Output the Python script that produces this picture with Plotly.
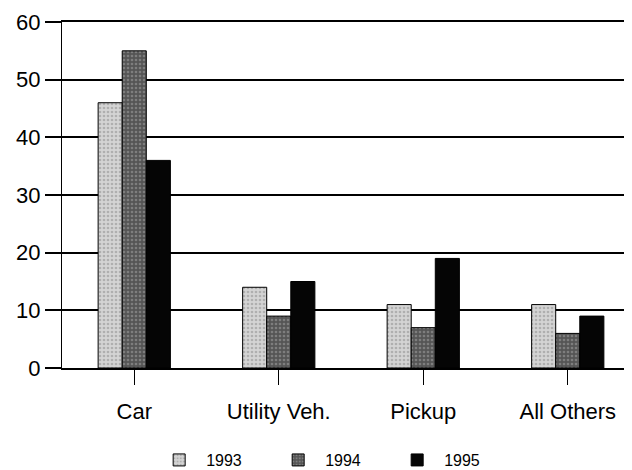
import plotly.graph_objects as go

# --- data ---
CATEGORIES = ['Car', 'Utility Veh.', 'Pickup', 'All Others']
YEARS = ['1993', '1994', '1995']
V_1993 = [46, 14, 11, 11]
V_1994 = [55, 9, 7, 6]
V_1995 = [36, 15, 19, 9]

SERIES = [V_1993, V_1994, V_1995]
COLORS = ['#d4d4d4', '#5e5e5e', '#050505']
PATTERNS = [
    dict(shape='.', bgcolor='#d4d4d4', fgcolor='#8a8a8a', size=4, solidity=0.35),
    dict(shape='.', bgcolor='#555555', fgcolor='#a8a8a8', size=4, solidity=0.35),
    dict(shape=''),
]

fig = go.Figure()
for year, vals, col, pat in zip(YEARS, SERIES, COLORS, PATTERNS):
    fig.add_trace(go.Bar(
        x=CATEGORIES, y=vals, name=year,
        marker=dict(color=col, line=dict(color='black', width=1), pattern=pat),
    ))

# page body adds an 8px offset, so margins are shifted by 8px
fig.update_layout(
    width=632, height=470,
    margin=dict(l=54, r=0, t=14, b=110, autoexpand=False),
    plot_bgcolor='white', paper_bgcolor='white',
    barmode='group', bargap=0.5, bargroupgap=0,
    font=dict(family='Liberation Sans, Arial', color='black'),
    showlegend=True,
    legend=dict(
        orientation='h', x=0.156, xanchor='left', y=-0.266, yanchor='middle',
        font=dict(size=16), itemwidth=44, entrywidth=60, entrywidthmode='pixels',
        traceorder='normal',
    ),
)
fig.update_yaxes(
    range=[0, 60], dtick=10, automargin=False,
    showgrid=True, gridcolor='black', gridwidth=1.5,
    showline=True, linecolor='black', linewidth=1,
    ticks='outside', ticklen=16, tickcolor='black', tickwidth=1.5,
    tickfont=dict(size=22), zeroline=False,
)
fig.update_xaxes(
    automargin=False,
    showline=True, linecolor='black', linewidth=1.5, mirror=True,
    ticks='outside', ticklen=15, tickcolor='black',
    ticklabelstandoff=8,
    tickfont=dict(size=22), showgrid=False,
)

fig.write_html('out.html')
